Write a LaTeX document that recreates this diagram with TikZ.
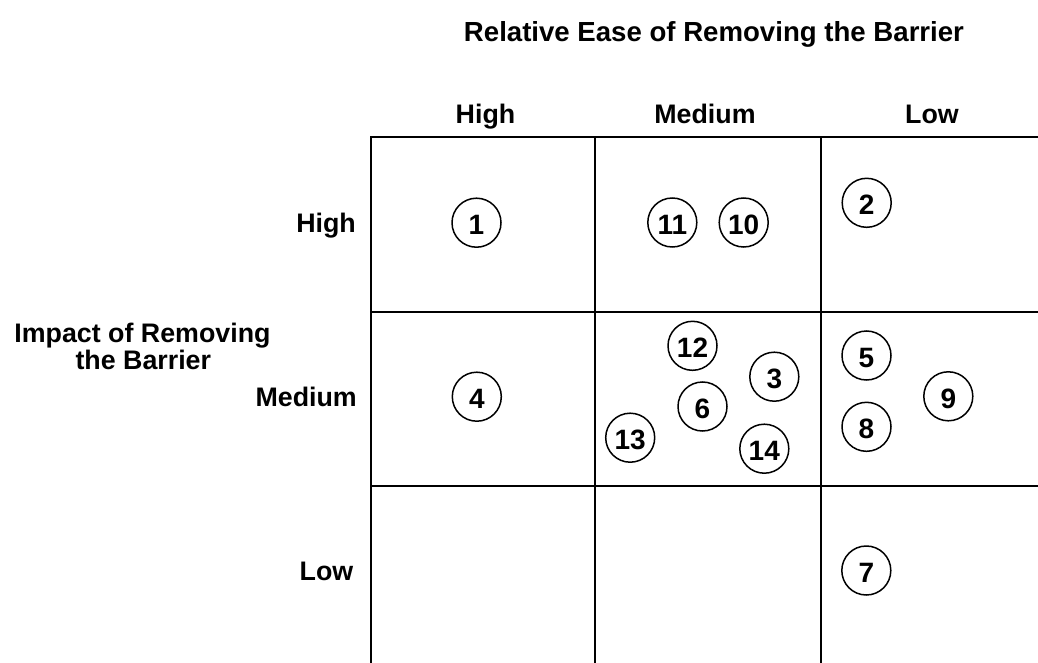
\documentclass[tikz,border=0pt]{standalone}
\usepackage{fontspec}
\setmainfont{Liberation Sans}
\begin{document}
\begin{tikzpicture}[x=1pt,y=-1pt,
  lbl/.style={font=\fontsize{26.8}{32}\selectfont\bfseries, inner sep=0pt},
  item/.style={circle, draw, line width=1.5pt, minimum size=49pt, inner sep=0pt,
    font=\fontsize{28}{32}\selectfont\bfseries, text height=24pt, text depth=0pt},
  gridline/.style={line width=2pt}]
\useasboundingbox (0,0) rectangle (1038,663);
\begin{scope}
\clip (0,0) rectangle (1038,663);
% grid
\draw[gridline] (371,663) -- (371,137) -- (1038,137);
\draw[gridline] (595,137) -- (595,663);
\draw[gridline] (821,137) -- (821,663);
\draw[gridline] (371,312) -- (1038,312);
\draw[gridline] (371,486) -- (1038,486);
\end{scope}
% titles
\node[lbl, anchor=base, font=\fontsize{27.6}{32}\selectfont\bfseries] (title) at (714,42) {Relative Ease of Removing the Barrier};
\node[lbl, anchor=base] (colH) at (485.5,124) {High};
\node[lbl, anchor=base] (colM) at (705,124) {Medium};
\node[lbl, anchor=base] (colL) at (932,124) {Low};
\node[lbl, anchor=base east] (rowH) at (356,232.7) {High};
\node[lbl, anchor=base east] (rowM) at (357,406.7) {Medium};
\node[lbl, anchor=base east] (rowL) at (353.5,580.7) {Low};
\node[lbl, anchor=base] (imp1) at (142.5,342) {Impact of Removing};
\node[lbl, anchor=base] (imp2) at (143.3,369) {the Barrier};
% items
\node[item] (n1) at (476.5,222.7) {1};
\node[item] (n2) at (866.7,202.8) {2};
\node[item] (n3) at (774.3,376.7) {3};
\node[item] (n4) at (476.8,396.7) {4};
\node[item] (n5) at (866.5,355.5) {5};
\node[item] (n6) at (702.5,406.5) {6};
\node[item] (n7) at (866.3,570.5) {7};
\node[item] (n8) at (866.5,426.8) {8};
\node[item] (n9) at (948.3,396.3) {9};
\node[item] (n10) at (743.7,222.5) {10};
\node[item] (n11) at (672.3,222.5) {11};
\node[item] (n12) at (692.5,345.8) {12};
\node[item] (n13) at (630.2,437.7) {13};
\node[item] (n14) at (764.3,448.7) {14};
\end{tikzpicture}
\end{document}
